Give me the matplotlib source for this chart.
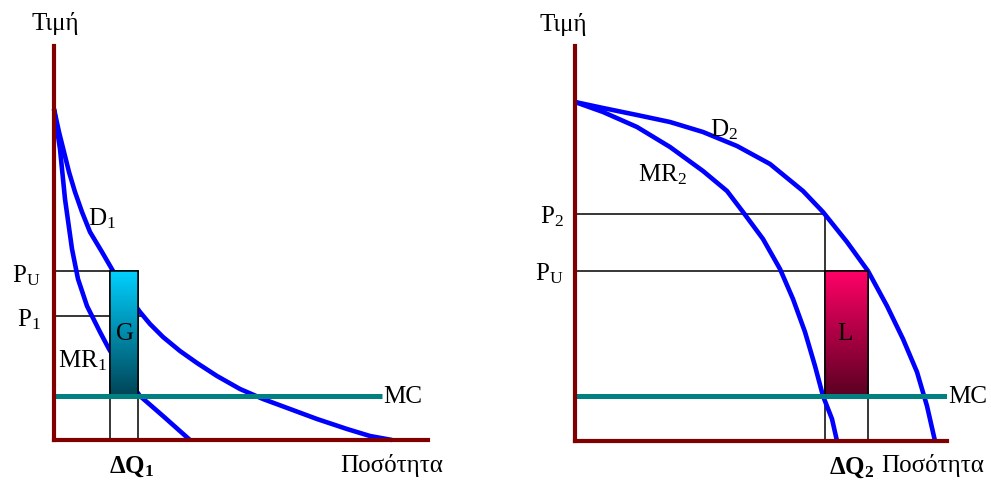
import numpy as np
import matplotlib
matplotlib.use("Agg")
import matplotlib.pyplot as plt
from matplotlib.colors import LinearSegmentedColormap

plt.rcParams['font.family'] = ['Liberation Serif', 'DejaVu Serif']
plt.rcParams['mathtext.fontset'] = 'custom'
plt.rcParams['mathtext.rm'] = 'Liberation Serif'
plt.rcParams['mathtext.it'] = 'Liberation Serif:italic'
plt.rcParams['mathtext.bf'] = 'Liberation Serif:bold'

# Left panel: elastic demand (quantity, price)
d1_q = [0.0, 0.5, 1.0, 1.5, 2.1, 2.8, 3.6, 4.8, 5.9, 7.2, 8.6, 9.6, 10.9, 12.6, 14.3,
        16.3, 18.6, 20.9, 23.6, 26.3, 29.3, 31.6, 33.8]
d1_p = [33.1, 30.8, 28.8, 26.8, 24.8, 22.8, 20.8, 18.8, 16.9, 14.7, 12.8, 11.6, 10.3, 8.9, 7.7,
        6.4, 5.1, 4.1, 3.1, 2.1, 1.1, 0.4, 0.0]
mr1_q = [0.0, 0.6, 1.1, 1.8, 2.4, 3.3, 4.6, 5.5, 7.0, 8.6, 10.9, 13.6]
mr1_p = [33.1, 29.1, 24.1, 19.1, 16.1, 13.4, 10.8, 9.1, 6.6, 4.4, 2.4, 0.0]
pu_1, p1, mc_1 = 16.9, 12.4, 4.4
dq1 = (5.6, 8.4)

# Right panel: inelastic demand
d2_q = [0.0, 2.8, 6.2, 9.5, 12.8, 16.2, 19.5, 22.8, 24.8, 27.2, 29.3, 31.2, 32.8, 34.2, 35.2, 36.0]
d2_p = [33.9, 33.3, 32.6, 31.9, 30.9, 29.5, 27.7, 25.0, 22.9, 19.9, 17.0, 13.5, 10.2, 6.9, 3.5, 0.0]
mr2_q = [0.0, 2.8, 6.2, 9.5, 12.8, 15.2, 16.8, 18.8, 20.5, 21.8, 23.0, 24.0, 24.8, 25.7, 26.2]
mr2_p = [33.9, 32.9, 31.4, 29.4, 27.0, 25.0, 22.9, 20.2, 17.2, 14.2, 10.9, 7.5, 4.5, 2.2, 0.0]
p2, pu_2, mc_2 = 22.7, 17.0, 4.5
dq2 = (25.0, 29.3)

AXIS = '#800000'
CURVE = '#0000ff'
MCCOL = '#008080'
FS = 18

fig = plt.figure(figsize=(9.91, 4.81), dpi=100)
W, H = 991, 481


def make_axes(x0, y0, xmax, ymax):
    ax = fig.add_axes([x0 / W, (H - y0) / H, xmax * 10 / W, ymax * 10 / H])
    ax.set_xlim(0, xmax)
    ax.set_ylim(0, ymax)
    for s in ('top', 'right'):
        ax.spines[s].set_visible(False)
    for s in ('left', 'bottom'):
        ax.spines[s].set_color(AXIS)
        ax.spines[s].set_linewidth(3.0)
        ax.spines[s].set_zorder(6)
    ax.set_xticks([])
    ax.set_yticks([])
    ax.patch.set_alpha(0)
    return ax


def curve(ax, q, p):
    ax.plot(q, p, color=CURVE, lw=3.3, clip_on=False, zorder=2,
            solid_capstyle='butt', solid_joinstyle='round')


def gradient_box(ax, x0, x1, y0, y1, top, bottom):
    cmap = LinearSegmentedColormap.from_list('g', [bottom, top])
    grad = np.linspace(0, 1, 256).reshape(-1, 1)
    ax.imshow(grad, cmap=cmap, origin='lower', aspect='auto',
              extent=(x0, x1, y0, y1), zorder=3)
    ax.plot([x0, x1, x1, x0, x0], [y0, y0, y1, y1, y0], color='black', lw=1.1, zorder=4)


# ---- left panel ----
ax1 = make_axes(54, 441, 37.4, 39.4)
curve(ax1, d1_q, d1_p)
curve(ax1, mr1_q, mr1_p)
ax1.plot([0, dq1[1]], [pu_1, pu_1], color='black', lw=1.1, zorder=1)
ax1.plot([0, dq1[1] + 0.5], [p1, p1], color='black', lw=1.1, zorder=1)
for q in dq1:
    ax1.plot([q, q], [0, pu_1], color='black', lw=1.1, zorder=1)
gradient_box(ax1, dq1[0], dq1[1], mc_1, pu_1, '#00d0ff', '#004456')
ax1.plot([0, 32.8], [mc_1, mc_1], color=MCCOL, lw=3.6, zorder=5, solid_capstyle='butt')

ax1.text(0.1, 41.7, 'Τιμή', fontsize=FS, ha='center', va='center', clip_on=False)
ax1.text(3.4, 21.6, r'$\mathrm{D_1}$', fontsize=FS, ha='left', va='baseline')
ax1.text(-4.2, 15.9, r'$\mathrm{P_U}$', fontsize=FS, ha='left', va='baseline')
ax1.text(-3.7, 11.5, r'$\mathrm{P_1}$', fontsize=FS, ha='left', va='baseline')
ax1.text(0.4, 7.4, r'$\mathrm{MR_1}$', fontsize=FS, ha='left', va='baseline')
ax1.text(7.1, 10.7, 'G', fontsize=FS, ha='center', va='center', zorder=7)
ax1.text(32.9, mc_1, 'MC', fontsize=FS, ha='left', va='center')
ax1.text(7.8, -2.6, r'$\mathbf{\Delta Q_1}$', fontsize=FS, ha='center', va='center')
ax1.text(33.8, -2.5, 'Ποσότητα', fontsize=FS, ha='center', va='center')

# ---- right panel ----
ax2 = make_axes(575, 442, 37.2, 39.5)
curve(ax2, d2_q, d2_p)
curve(ax2, mr2_q, mr2_p)
ax2.plot([0, dq2[0]], [p2, p2], color='black', lw=1.1, zorder=1)
ax2.plot([dq2[0], dq2[0]], [0, p2], color='black', lw=1.1, zorder=1)
ax2.plot([0, dq2[1]], [pu_2, pu_2], color='black', lw=1.1, zorder=1)
ax2.plot([dq2[1], dq2[1]], [0, pu_2], color='black', lw=1.1, zorder=1)
gradient_box(ax2, dq2[0], dq2[1], mc_2, pu_2, '#ff0066', '#5a0022')
ax2.plot([0, 37.2], [mc_2, mc_2], color=MCCOL, lw=3.6, zorder=5, solid_capstyle='butt')

ax2.text(-1.2, 41.8, 'Τιμή', fontsize=FS, ha='center', va='center', clip_on=False)
ax2.text(13.5, 30.6, r'$\mathrm{D_2}$', fontsize=FS, ha='left', va='baseline')
ax2.text(6.3, 26.1, r'$\mathrm{MR_2}$', fontsize=FS, ha='left', va='baseline')
ax2.text(-3.5, 21.9, r'$\mathrm{P_2}$', fontsize=FS, ha='left', va='baseline')
ax2.text(-4.0, 16.2, r'$\mathrm{P_U}$', fontsize=FS, ha='left', va='baseline')
ax2.text(27.0, 10.8, 'L', fontsize=FS, ha='center', va='center', zorder=7)
ax2.text(37.3, mc_2, 'MC', fontsize=FS, ha='left', va='center')
ax2.text(27.7, -2.6, r'$\mathbf{\Delta Q_2}$', fontsize=FS, ha='center', va='center')
ax2.text(35.8, -2.4, 'Ποσότητα', fontsize=FS, ha='center', va='center')

fig.savefig('out.png', dpi=100)
